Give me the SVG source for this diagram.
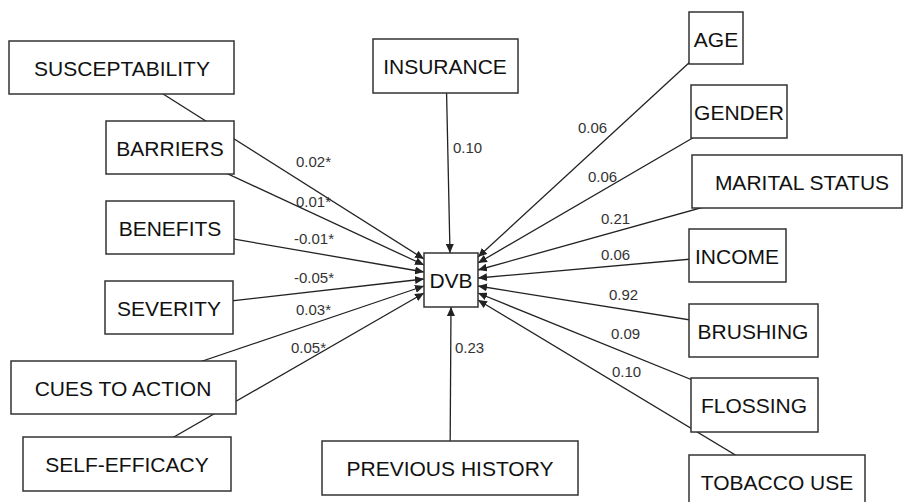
<svg xmlns="http://www.w3.org/2000/svg" width="903" height="502" viewBox="0 0 903 502">
<style>
.box rect{fill:#fff;stroke:#333;stroke-width:1.5}
.box text{font-family:"Liberation Sans",Arial,sans-serif;font-size:21px;fill:#111;text-anchor:middle}
.edges line{stroke:#222;stroke-width:1.3}
.lbl{font-family:"Liberation Sans",Arial,sans-serif;font-size:15px;fill:#333}
</style>
<defs>
<marker id="ah" markerUnits="userSpaceOnUse" markerWidth="9" markerHeight="8" refX="9" refY="4" orient="auto">
<path d="M0,0 L9,4 L0,8 z" fill="#222"/>
</marker>
</defs>
<rect width="903" height="502" fill="#fff"/>
<g id="connectors" class="edges">
<line x1="122" y1="68" x2="424" y2="259" marker-end="url(#ah)"/>
<line x1="170" y1="147" x2="424" y2="265" marker-end="url(#ah)"/>
<line x1="170" y1="228" x2="424" y2="272" marker-end="url(#ah)"/>
<line x1="169" y1="308" x2="424" y2="279" marker-end="url(#ah)"/>
<line x1="123" y1="388" x2="424" y2="286" marker-end="url(#ah)"/>
<line x1="127" y1="464" x2="424" y2="293" marker-end="url(#ah)"/>
<line x1="446" y1="66" x2="450" y2="253" marker-end="url(#ah)"/>
<line x1="450" y1="468" x2="451" y2="307" marker-end="url(#ah)"/>
<line x1="716" y1="38" x2="478" y2="257" marker-end="url(#ah)"/>
<line x1="739" y1="111" x2="478" y2="263" marker-end="url(#ah)"/>
<line x1="797" y1="181" x2="478" y2="270" marker-end="url(#ah)"/>
<line x1="737" y1="255" x2="478" y2="278" marker-end="url(#ah)"/>
<line x1="753" y1="330" x2="478" y2="286" marker-end="url(#ah)"/>
<line x1="754" y1="405" x2="478" y2="293" marker-end="url(#ah)"/>
<line x1="777" y1="480" x2="478" y2="300" marker-end="url(#ah)"/>
</g>
<g id="labels">
<text class="lbl" x="296" y="167">0.02*</text>
<text class="lbl" x="296" y="207">0.01*</text>
<text class="lbl" x="294" y="244">-0.01*</text>
<text class="lbl" x="294" y="283">-0.05*</text>
<text class="lbl" x="296" y="315">0.03*</text>
<text class="lbl" x="291" y="353">0.05*</text>
<text class="lbl" x="453" y="153">0.10</text>
<text class="lbl" x="455" y="353">0.23</text>
<text class="lbl" x="578" y="133">0.06</text>
<text class="lbl" x="588" y="182">0.06</text>
<text class="lbl" x="601" y="224">0.21</text>
<text class="lbl" x="601" y="260">0.06</text>
<text class="lbl" x="609" y="300">0.92</text>
<text class="lbl" x="611" y="339">0.09</text>
<text class="lbl" x="612" y="377">0.10</text>
</g>
<g id="susceptability" class="box"><rect x="9" y="41" width="225" height="53"/><text x="122" y="76">SUSCEPTABILITY</text></g>
<g id="barriers" class="box"><rect x="106" y="121" width="128" height="53"/><text x="170" y="156">BARRIERS</text></g>
<g id="benefits" class="box"><rect x="106" y="201" width="128" height="53"/><text x="170" y="236">BENEFITS</text></g>
<g id="severity" class="box"><rect x="105" y="281" width="128" height="53"/><text x="169" y="316">SEVERITY</text></g>
<g id="cues" class="box"><rect x="11" y="361" width="225" height="53"/><text x="123" y="396">CUES TO ACTION</text></g>
<g id="selfefficacy" class="box"><rect x="23" y="437" width="208" height="54"/><text x="127" y="472">SELF-EFFICACY</text></g>
<g id="insurance" class="box"><rect x="373" y="39" width="145" height="54"/><text x="445" y="74">INSURANCE</text></g>
<g id="dvb" class="box"><rect x="424" y="253" width="54" height="54"/><text x="451" y="288">DVB</text></g>
<g id="history" class="box"><rect x="322" y="441" width="256" height="54"/><text x="450" y="476">PREVIOUS HISTORY</text></g>
<g id="age" class="box"><rect x="689" y="12" width="54" height="52"/><text x="716" y="47">AGE</text></g>
<g id="gender" class="box"><rect x="691" y="85" width="96" height="53"/><text x="739" y="120">GENDER</text></g>
<g id="marital" class="box"><rect x="692" y="155" width="210" height="53"/><text x="802" y="190">MARITAL STATUS</text></g>
<g id="income" class="box"><rect x="689" y="229" width="97" height="53"/><text x="737" y="264">INCOME</text></g>
<g id="brushing" class="box"><rect x="689" y="304" width="129" height="53"/><text x="753" y="339">BRUSHING</text></g>
<g id="flossing" class="box"><rect x="691" y="378" width="127" height="54"/><text x="754" y="413">FLOSSING</text></g>
<g id="tobacco" class="box"><rect x="689" y="455" width="176" height="55"/><text x="777" y="490">TOBACCO USE</text></g>
</svg>
